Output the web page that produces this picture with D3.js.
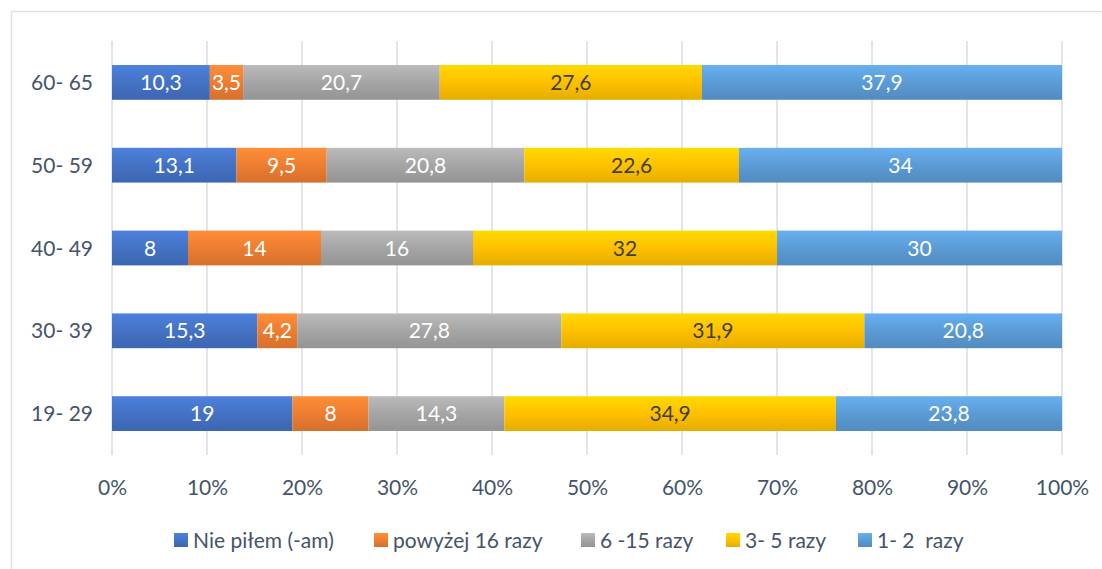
<!DOCTYPE html>
<html>
<head>
  <meta charset="utf-8">
  <script src="https://d3js.org/d3.v7.min.js"></script>
  <style>
    body { margin: 0; background: #fff; }
    text { font-family: Lato, "Open Sans", sans-serif; white-space: pre; }
  </style>
</head>
<body>
<script>
  var width = 1102, height = 569;

  // data, top row first
  var categories = ["60- 65", "50- 59", "40- 49", "30- 39", "19- 29"];
  var seriesNames = ["Nie piłem (-am)", "powyżej 16 razy", "6 -15 razy", "3- 5 razy", "1- 2  razy"];
  var nie = [10.3, 13.1, 8, 15.3, 19];
  var powyzej16 = [3.5, 9.5, 14, 4.2, 8];
  var r6_15 = [20.7, 20.8, 16, 27.8, 14.3];
  var r3_5 = [27.6, 22.6, 32, 31.9, 34.9];
  var r1_2 = [37.9, 34, 30, 20.8, 23.8];
  var tickValues = [0, 0.1, 0.2, 0.3, 0.4, 0.5, 0.6, 0.7, 0.8, 0.9, 1];

  var seriesValues = [nie, powyzej16, r6_15, r3_5, r1_2];
  var colors = ["#4472C4", "#ED7D31", "#A5A5A5", "#FFC000", "#5B9BD5"];
  var labelColors = ["#fff", "#fff", "#fff", "#404040", "#fff"];
  var fontSize = 21;

  var rows = categories.map(function(c, i) {
    var r = { cat: c };
    seriesNames.forEach(function(s, j) { r[s] = seriesValues[j][i]; });
    return r;
  });
  var stacked = d3.stack().keys(seriesNames)
    .offset(d3.stackOffsetExpand)(rows);

  var margin = { left: 112, right: 40, top: 41, bottom: 114 };
  var x = d3.scaleLinear().domain([0, 1]).range([margin.left, width - margin.right]);
  var y = d3.scaleBand().domain(categories).range([margin.top, height - margin.bottom]).paddingInner(0.58).paddingOuter(0.29);

  var svg = d3.select("body").append("svg").attr("width", width).attr("height", height);

  // gradients like the office fill
  var defs = svg.append("defs");
  colors.forEach(function(c, i) {
    var g = defs.append("linearGradient").attr("id", "g" + i)
      .attr("x1", 0).attr("y1", 0).attr("x2", 0).attr("y2", 1);
    g.append("stop").attr("offset", "0%").attr("stop-color", d3.color(c).brighter(0.35));
    g.append("stop").attr("offset", "50%").attr("stop-color", c);
    g.append("stop").attr("offset", "100%").attr("stop-color", d3.color(c).darker(0.3));
  });

  // frame
  svg.append("rect").attr("x", 11.5).attr("y", 11.5).attr("width", width + 20).attr("height", height + 20)
    .attr("fill", "none").attr("stroke", "#DDE2EA").attr("stroke-width", 1.5);

  // gridlines
  svg.append("g").selectAll("line").data(tickValues).enter().append("line")
    .attr("x1", function(d) { return x(d); }).attr("x2", function(d) { return x(d); })
    .attr("y1", margin.top).attr("y2", height - margin.bottom)
    .attr("stroke", "#D9DDE4").attr("stroke-width", 1.5);

  // bars
  var layer = svg.append("g").selectAll("g").data(stacked).enter().append("g")
    .attr("fill", function(d, i) { return "url(#g" + i + ")"; });
  layer.selectAll("rect").data(function(d) { return d; }).enter().append("rect")
    .attr("x", function(d) { return x(d[0]); })
    .attr("width", function(d) { return x(d[1]) - x(d[0]); })
    .attr("y", function(d) { return y(d.data.cat); })
    .attr("height", y.bandwidth());

  // value labels
  stacked.forEach(function(s, i) {
    svg.append("g").selectAll("text").data(s).enter().append("text")
      .attr("x", function(d) { return (x(d[0]) + x(d[1])) / 2; })
      .attr("y", function(d) { return y(d.data.cat) + y.bandwidth() / 2; })
      .attr("dy", "0.36em")
      .attr("text-anchor", "middle")
      .attr("font-size", fontSize)
      .attr("fill", labelColors[i])
      .text(function(d) { return String(d.data[s.key]).replace(".", ","); });
  });

  // category axis labels
  svg.append("g").selectAll("text").data(categories).enter().append("text")
    .attr("x", 93).attr("y", function(d) { return y(d) + y.bandwidth() / 2; })
    .attr("dy", "0.36em").attr("text-anchor", "end")
    .attr("font-size", fontSize).attr("fill", "#44546A")
    .text(function(d) { return d; });

  // x axis
  var xAxis = svg.append("g").attr("transform", "translate(0," + (height - margin.bottom) + ")")
    .call(d3.axisBottom(x).tickValues(tickValues).tickFormat(d3.format(".0%")).tickSize(0).tickPadding(25));
  xAxis.select(".domain").remove();
  xAxis.selectAll("text").attr("font-size", fontSize).attr("fill", "#44546A")
    .style("font-family", "Lato, 'Open Sans', sans-serif");

  // legend
  var legendX = [174, 374, 581, 726, 858];
  var legend = svg.append("g").selectAll("g").data(seriesNames).enter().append("g")
    .attr("transform", function(d, i) { return "translate(" + legendX[i] + ",540)"; });
  legend.append("rect").attr("x", 0).attr("y", -7).attr("width", 14).attr("height", 14)
    .attr("fill", function(d, i) { return "url(#g" + i + ")"; });
  legend.append("text").attr("x", 19).attr("dy", "0.36em")
    .attr("font-size", fontSize).attr("fill", "#44546A")
    .text(function(d) { return d; });
</script>
</body>
</html>
